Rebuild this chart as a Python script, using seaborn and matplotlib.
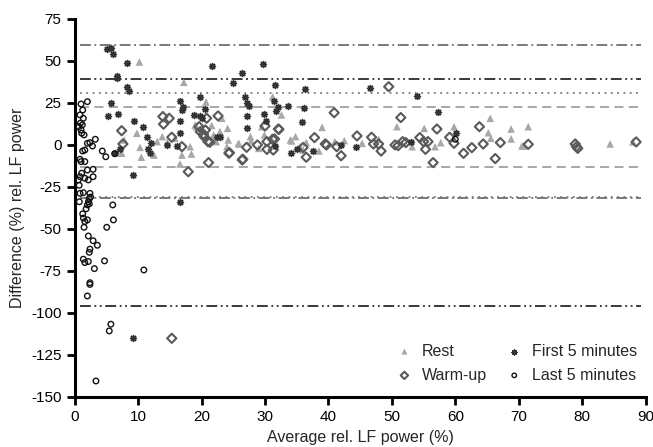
import matplotlib
matplotlib.use("Agg")
import matplotlib.pyplot as plt
import seaborn as sns
import pandas as pd

# Rest
rest_x = [10.2, 17.2, 9.8, 10.3, 10.5, 7.4, 7.8, 13.8, 14.6, 15.8, 18.2, 18.4, 16.9, 16.6,
          19.2, 20.0, 20.7, 21.6, 21.9, 21.9, 22.3, 24.1, 24.2, 25.9, 27.7, 27.8, 29.5, 29.9,
          31.2, 32.6, 31.1, 34.0, 34.8, 39.0, 38.5, 41.0, 42.5, 45.3, 47.9, 50.8, 53.2, 55.1,
          56.8, 57.7, 59.8, 65.2, 65.5, 65.6, 68.8, 68.8, 70.8, 71.5, 84.4, 88.0, 19.0, 23.2,
          24.0, 25.8, 34.2, 35.5, 36.5, 12.5, 13.0, 22.9, 29.0, 36.0, 70.5]
rest_y = [49.4, 37.3, 7.0, -1.4, -7.3, -4.9, 3.0, 5.0, 1.6, 4.0, -1.0, -5.4, -6.0, -11.3,
          10.9, 9.9, 25.6, 11.6, 6.0, 3.0, 2.0, 9.9, 3.0, 0.6, 5.0, 2.5, 10.9, 6.0,
          28.7, 17.9, 3.0, 3.0, 5.0, 10.5, -3.6, 2.0, 2.6, 1.0, 3.4, 10.9, -1.0, 9.9,
          -1.0, 1.4, 10.9, 7.3, 15.9, 4.0, 9.5, 3.6, -0.6, 10.9, 0.6, 1.8, 11.9, 15.9,
          -1.0, 1.0, 2.4, -1.0, 1.5, -6.0, 2.0, 8.0, -2.0, -3.0, -0.5]

# Warm-up
warm_x = [7.4, 7.6, 13.9, 14.0, 14.9, 15.3, 16.9, 17.9, 19.6, 19.8, 20.4, 20.8, 21.0, 21.1,
          22.6, 24.4, 26.5, 27.1, 28.8, 30.0, 30.3, 30.3, 32.1, 31.2, 36.5, 37.8, 39.5,
          40.9, 39.7, 41.3, 42.0, 44.5, 46.8, 47.1, 47.9, 48.3, 49.5, 51.4, 50.5, 51.0,
          51.7, 52.2, 54.4, 55.0, 55.3, 55.7, 56.5, 57.1, 59.1, 59.8, 61.3, 62.6, 63.8,
          64.4, 66.3, 67.1, 71.5, 78.9, 79.1, 79.3, 88.5, 15.3, 20.3, 20.6, 21.3, 24.3,
          26.4, 31.5, 32.2, 31.3, 36.0]
warm_y = [8.5, 0.6, 16.9, 12.4, 15.9, 4.6, -1.0, -15.9, 10.9, 7.9, 5.0, 15.9, 2.0, -10.5,
          17.3, -4.6, -8.5, -1.4, 0.0, 11.3, 2.0, -2.6, 9.5, 3.4, -7.3, 4.4, 0.6,
          19.2, 0.0, -1.0, -6.4, 5.4, 4.6, 0.6, 0.6, -3.6, 34.7, 16.3, 0.0, -0.4,
          2.0, 1.4, 4.4, 2.0, -2.6, 2.0, -10.5, 9.5, 4.6, 1.0, -5.0, -1.6, 10.9,
          0.6, -8.1, 1.4, 0.4, 0.6, -1.0, -2.0, 1.8, -115.1, 6.4, 8.9, 1.6, -4.9,
          -8.9, 3.6, 9.3, -3.0, -1.5]

# First 5 minutes
first_x = [5.05, 5.8, 6.1, 6.6, 6.7, 8.2, 8.2, 8.6, 5.2, 5.7, 6.9, 6.35, 7.1, 9.15, 9.35,
           10.7, 11.35, 11.6, 11.9, 12.1, 14.5, 16.6, 16.6, 16.9, 17.1, 16.6, 16.6, 16.1,
           18.8, 19.8, 20.55, 19.8, 20.0, 21.6, 22.4, 22.9, 24.9, 26.3, 26.8, 27.1, 27.4,
           27.2, 27.1, 29.75, 29.85, 30.2, 31.6, 31.4, 32.0, 31.7, 31.6, 33.7, 34.1, 35.0,
           36.1, 35.9, 36.3, 37.6, 46.5, 53.9, 57.2, 60.1, 42.0, 44.4, 53.0, 9.25]
first_y = [57.0, 57.5, 54.2, 41.1, 40.0, 49.0, 34.3, 32.1, 17.3, 25.2, 18.5, -4.9, -2.6, -17.9, 14.5,
           10.5, 4.6, -2.6, -4.9, 1.0, 0.0, -33.7, 26.4, 20.8, 22.4, 14.5, 7.0, -0.8,
           17.9, 28.7, 21.2, 17.3, 15.9, 47.2, 5.0, 4.6, 36.7, 43.0, 28.4, 25.0, 23.4,
           17.3, 10.3, 48.2, 18.5, 14.3, 35.7, 26.4, 22.6, 20.5, -0.8, 23.2, -4.6, -2.4,
           21.8, 13.5, 33.5, -3.6, 33.8, 29.2, 19.8, 7.3, 0.0, -1.0, 2.0, -115.1]

# Last 5 minutes
last_x = [1.0, 2.0, 1.26, 0.84, 1.36, 0.68, 1.0, 1.1, 1.47, 2.0, 2.4, 2.8, 3.25, 1.6, 1.25,
          0.84, 1.0, 1.6, 2.9, 2.0, 1.1, 0.84, 1.6, 2.15, 2.9, 0.57, 0.84, 1.36, 2.4, 2.5,
          0.73, 2.15, 2.3, 2.0, 2.3, 1.26, 1.36, 2.0, 6.0, 6.1, 4.35, 4.9, 6.3, 1.6, 5.05,
          1.47, 2.15, 2.9, 3.57, 2.4, 2.3, 1.36, 1.6, 2.15, 4.7, 3.1, 10.9, 2.4, 2.4, 2.0,
          5.7, 5.45, 3.35, 60.0, 0.9, 1.2, 0.7, 1.8]
last_y = [24.4, 25.8, 20.8, 17.9, 15.9, 10.9, 8.9, 7.0, 6.0, 1.0, 1.4, -0.6, 3.4, -3.0, -3.6,
          -8.5, -9.9, -9.9, -14.5, -14.9, -16.8, -18.9, -19.8, -20.8, -18.9, -20.8, -28.8, -28.4, -28.8, -31.0,
          -33.8, -33.8, -32.0, -35.7, -35.0, -41.0, -43.5, -44.6, -35.7, -44.6, -3.6, -7.0, -5.2, -45.6, -49.0,
          -49.0, -54.2, -57.0, -59.7, -62.0, -63.9, -68.0, -70.0, -69.4, -69.0, -73.6, -74.4, -82.0, -83.0, -89.9,
          -106.7, -110.7, -140.5, 3.4, 13.0, 12.0, -24.0, -38.0]

# limits of agreement
loa_levels = [59.7, -31.5, 39.3, -95.6, 30.8, -30.8, 22.4, -13.1]
loa_styles = [(0, (6, 2, 1, 2)), (0, (6, 2, 1, 2)),
              (0, (6, 2, 1, 2, 1, 2)), (0, (6, 2, 1, 2, 1, 2)),
              (0, (1, 2.5)), (0, (1, 2.5)),
              (0, (5, 3)), (0, (5, 3))]
loa_colors = ["#6e6e6e", "#6e6e6e", "#2a2a2a", "#2a2a2a",
              "#7a7a7a", "#7a7a7a", "#a0a0a0", "#a0a0a0"]

sns.set_style("ticks")
plt.rcParams["font.family"] = ["Liberation Sans", "DejaVu Sans"]
plt.rcParams["axes.unicode_minus"] = False

fig = plt.figure(figsize=(6.53, 4.47), dpi=100)
ax = fig.add_axes([0.1144, 0.112, 0.8743, 0.8455])

for lvl, ls, c in zip(loa_levels, loa_styles, loa_colors):
    ax.hlines(lvl, 0.8, 89.3, colors=c, linestyles=[ls], linewidth=1.3, zorder=1)

df_rest = pd.DataFrame({"x": rest_x, "y": rest_y})
df_warm = pd.DataFrame({"x": warm_x, "y": warm_y})
df_first = pd.DataFrame({"x": first_x, "y": first_y})
df_last = pd.DataFrame({"x": last_x, "y": last_y})

sns.scatterplot(data=df_rest, x="x", y="y", ax=ax, marker="^", s=30,
                color="#a8a8a8", edgecolor="none", linewidth=0, label="Rest", zorder=3)
sns.scatterplot(data=df_warm, x="x", y="y", ax=ax, marker="D", s=22,
                facecolor="none", edgecolor="#5a5a5a", linewidth=1.5, label="Warm-up", zorder=4)
sns.scatterplot(data=df_first, x="x", y="y", ax=ax, marker=(8, 2, 0), s=18,
                color="#333333", edgecolor="#333333", linewidth=1.1, label="First 5 minutes", zorder=5)
sns.scatterplot(data=df_last, x="x", y="y", ax=ax, marker="o", s=16,
                facecolor="none", edgecolor="#111111", linewidth=1.0, label="Last 5 minutes", zorder=6)

ax.set_xlim(0, 90)
ax.set_ylim(-150, 75)
ax.set_xticks(range(0, 91, 10))
ax.set_yticks(range(-150, 76, 25))
ax.set_xlabel("Average rel. LF power (%)", fontsize=11.5)
ax.set_ylabel("Difference (%) rel. LF power", fontsize=11.5)
ax.tick_params(axis="both", labelsize=11, width=2, length=6, color="black", labelcolor="black")
for side in ["left", "bottom"]:
    ax.spines[side].set_linewidth(2.2)
    ax.spines[side].set_color("black")
sns.despine(ax=ax)

ax.legend(ncol=2, frameon=False, loc="lower right", fontsize=11.5,
          bbox_to_anchor=(1.01, 0.0), columnspacing=0.9, handletextpad=0.3,
          handlelength=1.6, labelspacing=0.55, markerscale=0.8)

fig.savefig("out.png", dpi=100)
